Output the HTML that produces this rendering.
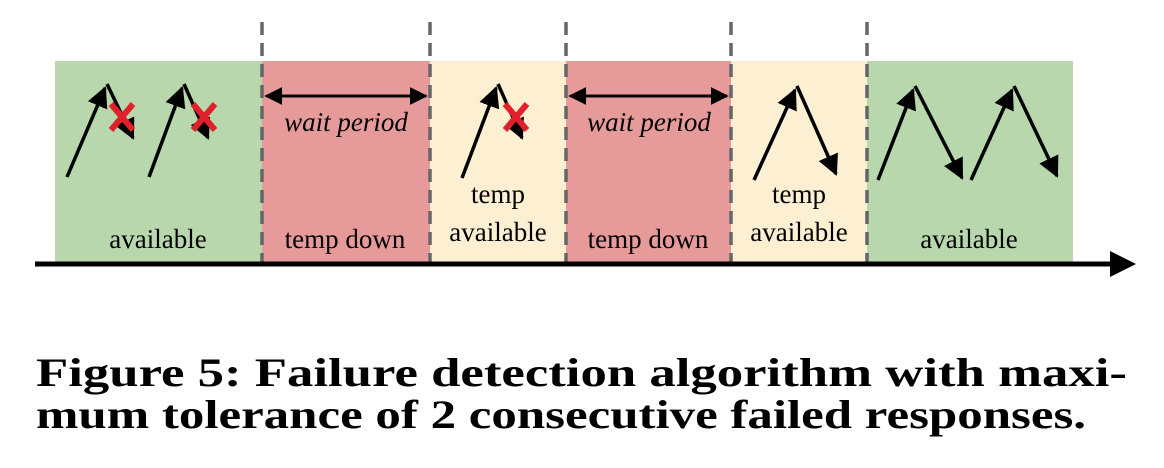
<!DOCTYPE html>
<html><head><meta charset="utf-8"><style>
html,body{margin:0;padding:0;background:#fff;}
svg{display:block;}
</style></head><body>
<svg width="1164" height="468" viewBox="0 0 1164 468" xmlns="http://www.w3.org/2000/svg">
<defs>
<marker id="ah" viewBox="0 0 10 10" refX="9" refY="5" markerWidth="6" markerHeight="6" orient="auto-start-reverse" markerUnits="strokeWidth"><path d="M0,0 L10,5 L0,10 z" fill="#000"/></marker>
</defs>
<g>
<rect x="55" y="61" width="207" height="201" fill="#b8d7ac"/>
<rect x="262" y="61" width="168" height="201" fill="#e79a9a"/>
<rect x="430" y="61" width="136" height="201" fill="#fdf0d2"/>
<rect x="566" y="61" width="165" height="201" fill="#e79a9a"/>
<rect x="731" y="61" width="136" height="201" fill="#fdf0d2"/>
<rect x="867" y="61" width="206" height="201" fill="#b8d7ac"/>
</g>
<g stroke="#666" stroke-width="3.5" stroke-dasharray="13,8">
<line x1="262" y1="22" x2="262" y2="262"/>
<line x1="430" y1="22" x2="430" y2="262"/>
<line x1="566" y1="22" x2="566" y2="262"/>
<line x1="731" y1="22" x2="731" y2="262"/>
<line x1="867" y1="22" x2="867" y2="262"/>
</g>
<g>
<line x1="35" y1="264" x2="1115" y2="264" stroke="#000" stroke-width="5"/>
<path d="M1110,251 L1136,264 L1110,277 z" fill="#000"/>
</g>
<g stroke="#000" stroke-width="3.5" fill="none">
<line x1="67" y1="177" x2="105" y2="88" marker-end="url(#ah)"/>
<line x1="107" y1="84" x2="133" y2="138" marker-end="url(#ah)"/>
<line x1="149" y1="177" x2="182" y2="88" marker-end="url(#ah)"/>
<line x1="184" y1="84" x2="208" y2="138" marker-end="url(#ah)"/>
<line x1="462" y1="178" x2="496" y2="88" marker-end="url(#ah)"/>
<line x1="498" y1="84" x2="522" y2="138" marker-end="url(#ah)"/>
<line x1="754" y1="180" x2="795" y2="90" marker-end="url(#ah)"/>
<line x1="797" y1="86" x2="836" y2="174" marker-end="url(#ah)"/>
<line x1="878" y1="180" x2="913" y2="90" marker-end="url(#ah)"/>
<line x1="915" y1="86" x2="962" y2="178" marker-end="url(#ah)"/>
<line x1="971" y1="180" x2="1012" y2="90" marker-end="url(#ah)"/>
<line x1="1014" y1="86" x2="1057" y2="176" marker-end="url(#ah)"/>
</g>
<g stroke="#e0202a" stroke-width="6">
<path d="M111,104 L133,130 M133,104 L111,130"/>
<path d="M193,104 L215,130 M215,104 L193,130"/>
<path d="M505,104 L527,130 M527,104 L505,130"/>
</g>
<g stroke="#000" stroke-width="3">
<line x1="266" y1="96" x2="426" y2="96" marker-start="url(#ah)" marker-end="url(#ah)"/>
<line x1="570" y1="96" x2="727" y2="96" marker-start="url(#ah)" marker-end="url(#ah)"/>
</g>
<g font-family="'Liberation Serif', serif" font-size="27" fill="#000" text-anchor="middle">
<text x="346" y="131" font-style="italic">wait period</text>
<text x="649" y="131" font-style="italic">wait period</text>
<text x="158" y="248">available</text>
<text x="345" y="248">temp down</text>
<text x="498" y="203">temp</text>
<text x="498" y="241">available</text>
<text x="648" y="248">temp down</text>
<text x="799" y="203">temp</text>
<text x="799" y="241">available</text>
<text x="969" y="248">available</text>
</g>
<g font-family="'Liberation Serif', serif" font-weight="bold" font-size="40" fill="#000">
<text x="36" y="386" textLength="1091" lengthAdjust="spacingAndGlyphs">Figure 5:  Failure detection algorithm with maxi-</text>
<text x="36" y="428" textLength="1050" lengthAdjust="spacingAndGlyphs">mum tolerance of 2 consecutive failed responses.</text>
</g>
</svg>
</body></html>
